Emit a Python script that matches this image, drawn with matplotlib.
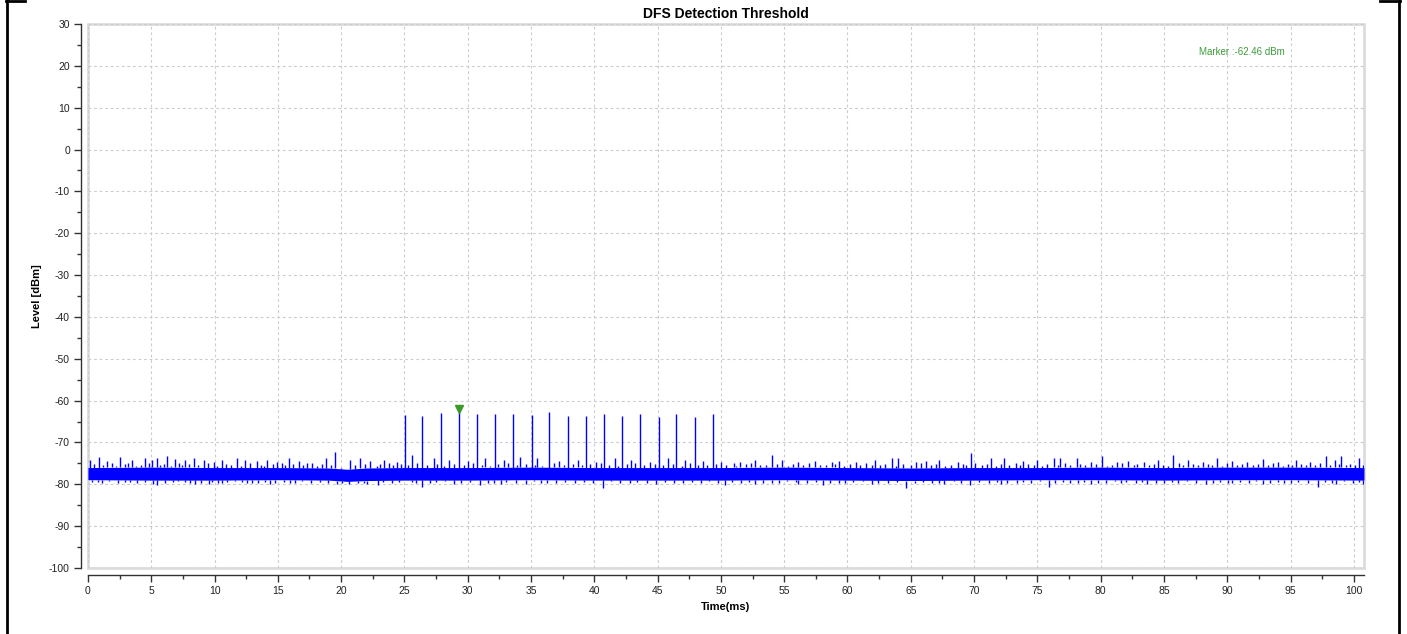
import numpy as np
import matplotlib.pyplot as plt
from matplotlib.lines import Line2D
from matplotlib.patches import Rectangle
from matplotlib.ticker import MultipleLocator

plt.rcParams['axes.unicode_minus'] = False

# Radar pulse train (ms, dBm)
pulse_t = [25.04, 26.42, 27.87, 29.32, 30.77, 32.16, 33.60, 35.05, 36.45,
           37.90, 39.35, 40.80, 42.17, 43.63, 45.08, 46.48, 47.93, 49.35]
pulse_peak = [-63.4, -63.6, -62.9, -62.46, -63.3, -63.1, -63.3, -63.4, -62.6,
              -63.6, -63.6, -63.1, -63.6, -63.3, -64.0, -63.1, -64.0, -63.3]

# noise floor core (ms, dBm)
core_t = [0, 5, 10, 15, 19, 20.5, 22, 25, 30, 35, 40, 45, 50, 55, 60, 65,
          70, 75, 80, 85, 90, 95, 100.8]
core_hi = [-76.0, -75.9, -76.0, -76.0, -76.1, -76.4, -76.1, -76.0, -76.0, -75.9, -76.0,
           -76.0, -76.0, -75.9, -76.0, -76.1, -76.0, -76.0, -75.9, -76.0, -75.9, -75.9, -76.0]
core_lo = [-78.9, -79.0, -79.0, -78.9, -79.0, -79.3, -79.1, -79.0, -79.0, -78.9, -79.0,
           -79.0, -79.0, -78.9, -79.0, -79.1, -79.0, -78.9, -78.9, -79.0, -78.9, -78.9, -79.0]

# large upward noise excursions
up_t = [0.16, 0.87, 1.48, 2.53, 3.46, 4.51, 5.04, 5.44, 6.23, 6.89, 7.68, 8.34,
        9.13, 9.92, 10.58, 11.77, 12.43, 13.35, 14.15, 14.94, 15.86, 16.65,
        17.3, 18.8, 19.5, 20.7, 21.5, 22.3, 23.4, 24.4, 25.6, 27.3, 28.5, 30.0,
        31.4, 32.9, 34.1, 35.5, 37.2, 38.7, 40.1, 41.6, 42.9, 44.4, 45.8, 47.2,
        48.6, 50.0, 51.0, 51.5, 52.7, 54.05, 54.8, 56.1, 57.4, 58.8, 59.3, 60.7,
        62.2, 63.5, 64.0, 65.4, 66.2, 67.2, 68.7, 69.75, 71.3, 72.4, 73.9, 75.0,
        76.3, 76.8, 78.1, 79.2, 80.1, 81.3, 82.2, 83.4, 84.5, 85.7, 86.9, 88.1,
        89.2, 90.4, 91.6, 92.8, 94.0, 95.4, 96.5, 97.8, 98.5, 99.0, 100.4]
up_lvl = [-74.2, -73.4, -74.4, -73.4, -74.2, -73.8, -74.2, -73.8, -73.3, -74.0, -74.2, -73.8,
          -74.2, -74.6, -74.2, -73.8, -74.2, -74.4, -74.2, -74.6, -73.8, -74.4,
          -75.0, -73.6, -72.3, -74.2, -73.8, -74.4, -74.2, -74.6, -72.9, -73.8, -74.2, -74.4,
          -73.8, -74.2, -73.4, -73.8, -74.4, -74.2, -74.6, -73.8, -74.2, -74.6, -73.8, -74.2,
          -74.4, -74.6, -75.0, -74.6, -74.2, -73.0, -74.2, -74.6, -74.4, -74.6, -74.4, -74.6,
          -74.2, -73.8, -73.6, -74.6, -74.4, -74.2, -74.6, -72.6, -73.8, -73.6, -74.4, -74.2,
          -73.8, -73.8, -73.8, -74.6, -73.3, -74.6, -74.4, -74.6, -74.2, -72.9, -74.2, -74.6,
          -73.6, -74.4, -74.6, -73.9, -74.6, -74.2, -74.6, -73.3, -74.2, -73.3, -73.8]

# smaller upward excursions (band texture)
mid_up_t = [0.5, 1.2, 1.9, 2.2, 2.9, 3.2, 3.8, 4.2, 4.8, 5.7, 6.0, 6.6, 7.2, 7.4, 8.0,
            8.7, 9.5, 10.2, 10.9, 11.3, 12.1, 12.8, 13.7, 13.9, 14.6, 15.3, 15.6, 16.2,
            17.0, 17.7, 18.1, 18.5, 19.2, 20.0, 21.1, 21.9, 22.8, 23.1, 23.8, 24.1, 24.7,
            25.3, 26.0, 26.8, 27.6, 28.1, 28.9, 29.7, 30.4, 31.1, 31.8, 32.4, 33.2, 33.9,
            34.6, 35.3, 35.9, 36.8, 37.6, 38.3, 39.0, 39.7, 40.5, 41.2, 41.9, 42.6, 43.2,
            43.9, 44.8, 45.4, 46.2, 46.9, 47.6, 48.2, 48.9, 49.6, 50.4, 51.2, 52.0, 52.4,
            53.1, 53.6, 54.4, 55.3, 55.7, 56.5, 57.0, 57.8, 58.3, 59.0, 59.7, 60.2, 61.0,
            61.5, 61.9, 62.6, 63.0, 63.8, 64.4, 65.0, 65.8, 66.6, 67.0, 67.7, 68.2, 69.1,
            69.4, 70.1, 70.6, 71.0, 71.7, 72.1, 72.8, 73.3, 73.6, 74.3, 74.7, 75.4, 75.8,
            76.6, 77.2, 77.6, 78.4, 78.8, 79.6, 80.5, 80.9, 81.7, 82.6, 82.9, 83.8, 84.2,
            84.9, 85.3, 86.2, 86.5, 87.3, 87.7, 88.5, 88.8, 89.6, 90.0, 90.8, 91.2, 92.0,
            92.4, 93.2, 93.6, 94.4, 94.8, 95.1, 95.8, 96.2, 96.9, 97.3, 98.1, 98.8, 99.4,
            99.7, 100.1, 100.7]
mid_up_lvl = [-75.1, -75.5, -74.9, -75.6, -75.2, -75.0, -75.7, -75.3, -74.9, -75.4, -75.1, -75.6,
              -75.0, -75.5, -75.2, -75.3, -74.9, -75.6, -75.1, -75.4, -75.7, -75.0, -75.3, -75.6,
              -75.2, -74.9, -75.5, -75.1, -75.4, -75.0, -75.6, -75.2, -75.5, -76.0, -75.3, -75.1,
              -75.6, -75.2, -74.9, -75.4, -75.1, -75.3, -75.0, -75.5, -75.2, -75.6, -75.1, -75.4,
              -75.0, -75.3, -75.6, -75.2, -74.9, -75.5, -75.1, -75.3, -75.6, -75.0, -75.4, -75.2,
              -75.5, -75.1, -74.9, -75.3, -75.6, -75.2, -75.0, -75.4, -75.1, -75.5, -75.2, -75.6,
              -75.0, -75.3, -75.5, -75.1, -75.4, -75.6, -75.2, -75.0, -75.5, -75.3, -75.1, -75.6,
              -75.2, -75.4, -75.0, -75.5, -75.3, -75.1, -75.6, -75.2, -75.4, -75.0, -75.5, -75.3,
              -75.1, -75.6, -75.2, -75.4, -75.0, -75.5, -75.2, -75.6, -75.3, -75.1, -75.4, -75.0,
              -75.5, -75.2, -75.6, -75.1, -75.3, -75.0, -75.5, -75.2, -75.4, -75.6, -75.1, -75.3,
              -75.0, -75.5, -75.2, -75.4, -75.1, -75.6, -75.3, -75.0, -75.4, -75.2, -75.5, -75.1,
              -75.3, -75.6, -75.0, -75.4, -75.2, -75.5, -75.1, -75.3, -75.6, -75.0, -75.4, -75.2,
              -75.5, -75.1, -75.3, -75.0, -75.6, -75.2, -75.4, -75.1, -75.5, -75.3, -75.0, -75.4,
              -75.2, -75.5, -75.1, -75.3, -75.4]

# large downward excursions
dn_t = [0.82, 2.93, 5.17, 5.44, 7.68, 8.47, 9.53, 10.58, 12.17, 12.96, 14.41, 16.39,
        20.1, 22.07, 22.9, 25.6, 26.4, 28.9, 31.0, 32.6, 34.6, 35.8, 40.7, 42.8,
        44.9, 47.0, 50.3, 52.7, 54.0, 56.1, 58.1, 59.8, 61.9, 64.6, 66.7, 67.6,
        69.7, 72.1, 73.4, 75.9, 77.6, 79.2, 81.6, 83.7, 86.1, 88.3, 90.4, 92.8,
        94.5, 97.2, 98.6, 100.7]
dn_lvl = [-79.4, -79.4, -80.0, -80.2, -79.4, -80.0, -80.0, -79.8, -79.4, -79.8, -80.0, -79.8,
          -79.8, -80.0, -80.2, -79.4, -80.6, -80.0, -80.2, -80.0, -80.0, -79.8, -80.8, -79.8,
          -80.0, -79.8, -80.2, -80.0, -79.8, -80.0, -80.2, -79.8, -80.0, -81.0, -79.8, -80.0,
          -80.2, -80.0, -79.8, -80.6, -79.8, -80.0, -79.8, -80.0, -79.8, -80.0, -79.8, -80.0,
          -79.8, -80.6, -80.0, -80.0]

# smaller downward excursions (band texture)
mid_dn_t = [0.3, 1.1, 1.7, 2.4, 3.3, 3.9, 4.5, 6.1, 6.7, 7.1, 8.1, 8.9, 9.8, 10.3,
            11.0, 11.6, 12.6, 13.4, 14.0, 14.8, 15.5, 16.0, 16.9, 17.6, 18.3, 19.0,
            19.7, 20.6, 21.3, 21.8, 23.3, 24.0, 24.6, 25.9, 27.0, 27.5, 28.2, 29.5,
            30.2, 31.6, 32.1, 33.0, 33.8, 35.2, 36.3, 37.0, 37.7, 38.5, 39.2, 39.9,
            41.3, 42.0, 43.4, 44.2, 45.6, 46.3, 47.7, 48.4, 49.1, 49.8, 50.9, 51.6,
            52.2, 53.3, 54.6, 55.2, 55.9, 56.8, 57.5, 58.6, 59.3, 60.4, 61.2, 62.4,
            63.2, 63.9, 65.3, 66.0, 67.2, 68.4, 69.0, 70.4, 71.2, 71.8, 72.6, 73.9,
            74.5, 75.2, 76.4, 77.0, 78.2, 78.7, 79.8, 80.4, 81.1, 82.0, 82.8, 83.3,
            84.4, 85.0, 85.6, 86.8, 87.5, 88.9, 89.4, 90.1, 91.0, 91.7, 92.3, 93.4,
            94.0, 95.0, 95.6, 96.4, 97.7, 98.3, 99.2, 99.9, 100.4]
mid_dn_lvl = [-79.4, -79.6, -79.3, -79.8, -79.5, -79.7, -79.4, -79.8, -79.5, -79.3, -79.6, -79.8,
              -79.4, -79.7, -79.5, -79.3, -79.6, -79.8, -79.4, -79.7, -79.5, -79.8, -79.3, -79.6,
              -79.4, -79.7, -79.9, -80.0, -79.6, -79.8, -79.5, -79.7, -79.4, -79.6, -79.8, -79.5,
              -79.3, -79.7, -79.4, -79.6, -79.8, -79.5, -79.7, -79.3, -79.6, -79.8, -79.4, -79.7,
              -79.5, -79.8, -79.3, -79.6, -79.4, -79.7, -79.5, -79.8, -79.4, -79.6, -79.3, -79.7,
              -79.5, -79.8, -79.4, -79.6, -79.7, -79.3, -79.5, -79.8, -79.4, -79.6, -79.7, -79.5,
              -79.3, -79.8, -79.6, -79.4, -79.7, -79.5, -79.8, -79.3, -79.6, -79.4, -79.7, -79.5,
              -79.8, -79.4, -79.6, -79.3, -79.7, -79.5, -79.8, -79.4, -79.6, -79.7, -79.3, -79.5,
              -79.8, -79.4, -79.6, -79.7, -79.5, -79.3, -79.8, -79.6, -79.4, -79.7, -79.5, -79.8,
              -79.3, -79.6, -79.4, -79.7, -79.5, -79.8, -79.4, -79.6, -79.3, -79.7, -79.5]

marker_t = 29.32
marker_lvl = -62.46

blue = '#0000ff'
sans = ['Liberation Sans', 'DejaVu Sans']

fig = plt.figure(figsize=(14.07, 6.34), dpi=100)
ax = fig.add_axes([0.0625, 0.1041, 0.9069, 0.858])

# noise floor
ax.fill_between(core_t, core_lo, core_hi, color=blue, lw=0)
ax.vlines(up_t, np.interp(up_t, core_t, core_hi), up_lvl, color=blue, lw=1.0)
ax.vlines(dn_t, np.interp(dn_t, core_t, core_lo), dn_lvl, color=blue, lw=1.0)
ax.vlines(mid_up_t, np.interp(mid_up_t, core_t, core_hi), mid_up_lvl, color=blue, lw=1.0)
ax.vlines(mid_dn_t, np.interp(mid_dn_t, core_t, core_lo), mid_dn_lvl, color=blue, lw=1.0)

# pulses
ax.vlines(pulse_t, -77.0, pulse_peak, color=blue, lw=1.0)

# marker
ax.plot([marker_t], [marker_lvl + 0.5], marker='v', color='#3a9a2a', ms=5.5, ls='none')
ax.text(87.8, 23.3, 'Marker :-62.46 dBm', color='#3c9c3c', fontsize=7,
        family=sans, ha='left', va='center')

ax.set_xlim(0, 100.8)
ax.set_ylim(-100, 30)
ax.xaxis.set_major_locator(MultipleLocator(5))
ax.xaxis.set_minor_locator(MultipleLocator(2.5))
ax.yaxis.set_major_locator(MultipleLocator(10))
ax.yaxis.set_minor_locator(MultipleLocator(5))

ax.grid(True, which='major', color='#cccccc', ls=(0, (2.5, 2.5)), lw=0.8)
ax.set_axisbelow(True)

for s in ['top', 'right']:
    ax.spines[s].set_visible(False)
for s in ['left', 'bottom']:
    ax.spines[s].set_position(('outward', 5))
    ax.spines[s].set_color('#333333')
    ax.spines[s].set_linewidth(1.0)
ax.add_patch(Rectangle((0, 0), 1, 1, transform=ax.transAxes, fill=False,
                       ec='#dcdcdc', lw=2, clip_on=False, zorder=0.5))

ax.tick_params(which='major', length=5, width=1, color='#333333', labelsize=7.5,
               labelcolor='#222222', pad=3)
ax.tick_params(which='minor', length=3, width=1, color='#333333')
for lab in ax.get_xticklabels() + ax.get_yticklabels():
    lab.set_family(sans)

ax.set_title('DFS Detection Threshold', fontsize=10, fontweight='bold',
             family=sans, pad=4)
ax.set_xlabel('Time(ms)', fontsize=8, fontweight='bold', family=sans, labelpad=4)
ax.set_ylabel('Level [dBm]', fontsize=8, fontweight='bold', family=sans)
ax.yaxis.set_label_coords(-0.036, 0.5)

# page border
W, H = 1407, 634
def px_line(x0, y0, x1, y1):
    fig.add_artist(Line2D([x0 / W, x1 / W], [1 - y0 / H, 1 - y1 / H],
                          color='black', lw=2))
px_line(7, 1, 7, 634)
px_line(6, 1, 25, 1)
px_line(1399, 1, 1399, 634)
px_line(1380, 1, 1400, 1)

fig.savefig('out.png', dpi=100)
